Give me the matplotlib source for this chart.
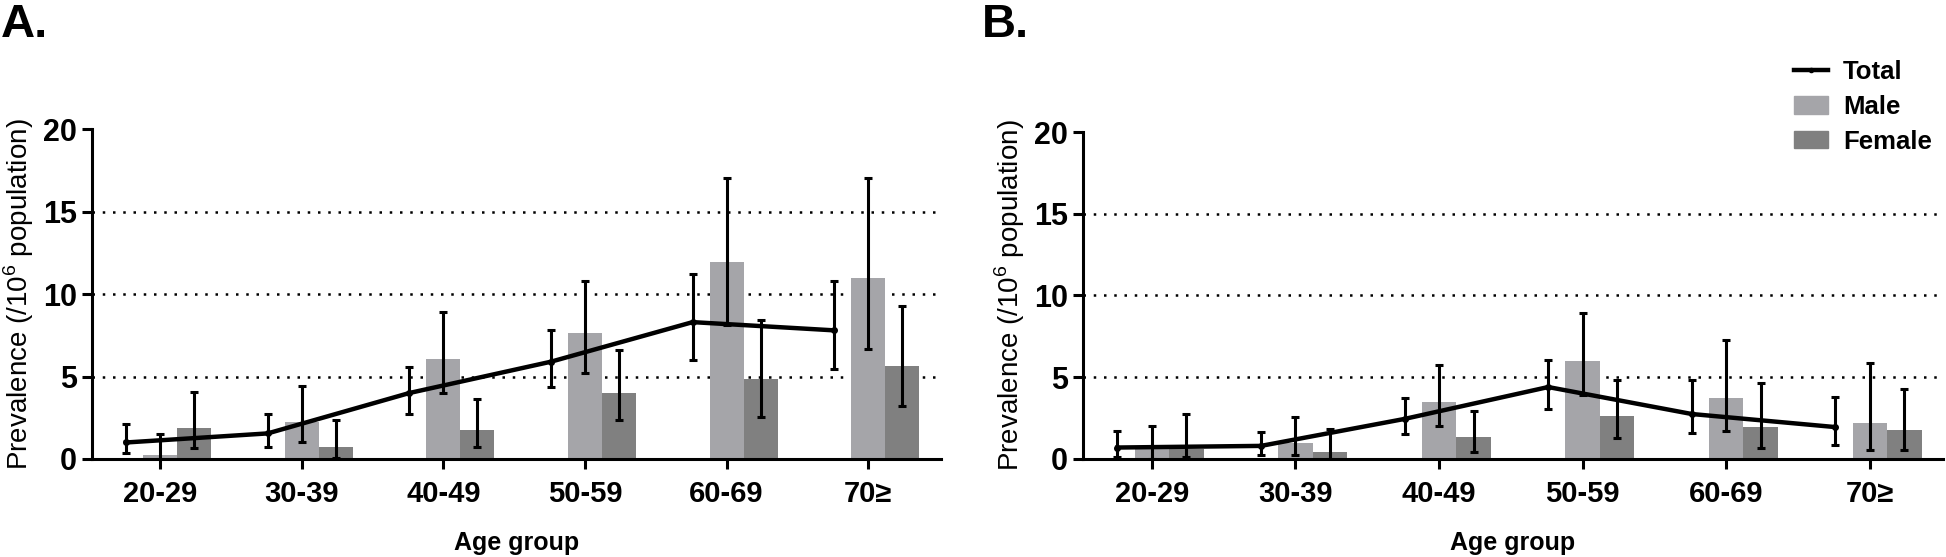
import numpy as np
import matplotlib
matplotlib.use('Agg')
import matplotlib.pyplot as plt
from matplotlib.lines import Line2D
from matplotlib.patches import Patch

#age groups on the x axis
groups = ['20-29', '30-39', '40-49', '50-59', '60-69', '70\u2265']

#panel A values (estimate and 95% CI bounds)
a_total = [1.0, 1.55, 4.0, 5.9, 8.3, 7.8]
a_total_lo = [0.35, 0.75, 2.75, 4.35, 6.0, 5.45]
a_total_hi = [2.1, 2.75, 5.55, 7.85, 11.2, 10.8]
a_male = [0.25, 2.25, 6.05, 7.65, 11.95, 10.95]
a_male_lo = [0.0, 1.0, 4.0, 5.2, 8.1, 6.7]
a_male_hi = [1.5, 4.4, 8.9, 10.8, 17.05, 17.05]
a_female = [1.85, 0.7, 1.75, 4.0, 4.85, 5.65]
a_female_lo = [0.65, 0.05, 0.75, 2.35, 2.55, 3.2]
a_female_hi = [4.05, 2.35, 3.65, 6.6, 8.4, 9.3]

#panel B values
b_total = [0.7, 0.8, 2.45, 4.4, 2.75, 1.95]
b_total_lo = [0.1, 0.25, 1.5, 3.05, 1.6, 0.85]
b_total_hi = [1.7, 1.65, 3.75, 6.05, 4.85, 3.8]
b_male = [0.6, 0.95, 3.5, 6.0, 3.7, 2.2]
b_male_lo = [0.0, 0.25, 2.0, 3.9, 1.7, 0.55]
b_male_hi = [2.0, 2.55, 5.75, 8.9, 7.25, 5.85]
b_female = [0.6, 0.4, 1.35, 2.65, 1.95, 1.75]
b_female_lo = [0.1, 0.0, 0.4, 1.3, 0.7, 0.55]
b_female_hi = [2.75, 1.85, 2.95, 4.85, 4.65, 4.25]

male_col = '#a5a5a9'
female_col = '#808080'

plt.rcParams['font.family'] = ['Liberation Sans', 'DejaVu Sans']
plt.rcParams['mathtext.fontset'] = 'custom'
plt.rcParams['mathtext.rm'] = 'Liberation Sans'

def yerr(v, lo, hi): #turn CI bounds into errorbar offsets
	v = np.array(v); lo = np.array(lo); hi = np.array(hi)
	return np.vstack([v-lo, hi-v])

def panel(ax, total, tlo, thi, male, mlo, mhi, female, flo, fhi):
	x = np.arange(len(groups))
	w = 0.24
	for y in [5, 10, 15]: #dotted reference lines
		ax.axhline(y, color='black', lw=1.8, ls=(0, (1, 3.1)), zorder=0)
	ax.bar(x, male, w, color=male_col, zorder=2)
	ax.bar(x+w, female, w, color=female_col, zorder=2)
	ek = dict(fmt='none', ecolor='black', elinewidth=2.2, capsize=3, capthick=2.2, zorder=3)
	ax.errorbar(x, male, yerr=yerr(male, mlo, mhi), **ek)
	ax.errorbar(x+w, female, yerr=yerr(female, flo, fhi), **ek)
	ax.errorbar(x-w, total, yerr=yerr(total, tlo, thi), **ek)
	ax.plot(x-w, total, color='black', lw=3.2, marker='o', ms=4, zorder=4)
	ax.set_ylim(0, 20)
	ax.set_xlim(-0.48, 5.51)
	ax.set_yticks([0, 5, 10, 15, 20])
	ax.set_xticks(x)
	ax.set_xticklabels(groups)
	for s in ['top', 'right']:
		ax.spines[s].set_visible(False)
	for s in ['left', 'bottom']:
		ax.spines[s].set_linewidth(2.2)
	ax.tick_params(width=2.2, length=7)
	ax.tick_params(axis='x', labelsize=21, pad=8)
	ax.tick_params(axis='y', labelsize=22, pad=4)
	for t in ax.get_xticklabels()+ax.get_yticklabels():
		t.set_fontweight('bold')
	ax.set_ylabel('Prevalence (/10$^6$ population)', fontsize=20, labelpad=5)
	ax.set_xlabel('Age group', fontsize=18, fontweight='bold', labelpad=17)

fig = plt.figure(figsize=(19.46, 5.57), dpi=100)
axA = fig.add_axes([0.0473, 0.176, 0.436, 0.592])
axB = fig.add_axes([0.5565, 0.176, 0.442, 0.587])
panel(axA, a_total, a_total_lo, a_total_hi, a_male, a_male_lo, a_male_hi, a_female, a_female_lo, a_female_hi)
panel(axB, b_total, b_total_lo, b_total_hi, b_male, b_male_lo, b_male_hi, b_female, b_female_lo, b_female_hi)

fig.text(0.0005, 0.934, 'A.', fontsize=34, fontweight='bold', va='baseline')
fig.text(0.5045, 0.934, 'B.', fontsize=34, fontweight='bold', va='baseline')

handles = [Line2D([0], [0], color='black', lw=3.2, marker='o', ms=3),
	Patch(color=male_col), Patch(color=female_col)]
fig.legend(handles, ['Total', 'Male', 'Female'], loc='upper left', bbox_to_anchor=(0.9155, 0.915),
	frameon=False, prop={'weight': 'bold', 'size': 18.5}, handlelength=1.3, handleheight=0.65,
	handletextpad=0.6, labelspacing=0.42, borderpad=0)

plt.savefig('out.png', dpi=100)
